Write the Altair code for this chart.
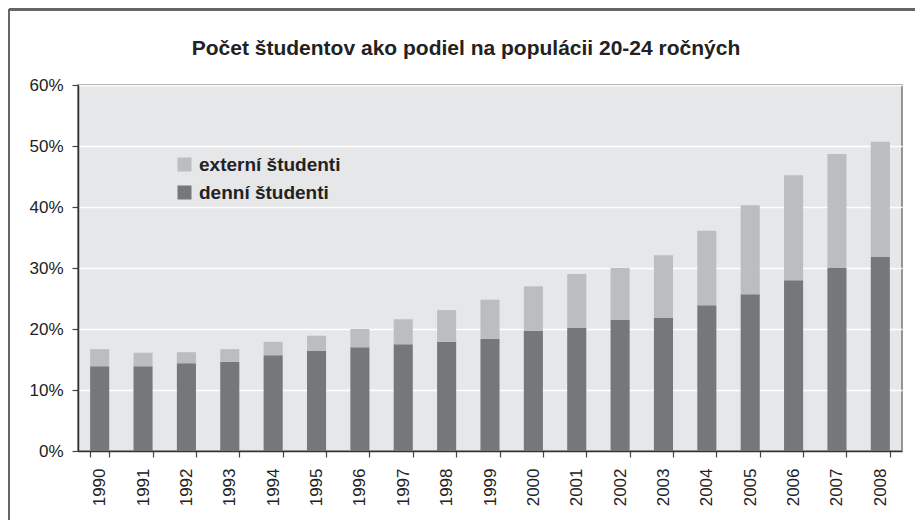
import altair as alt
import pandas as pd

years = [str(y) for y in range(1990, 2009)]
denni = [13.9, 13.9, 14.4, 14.6, 15.7, 16.4, 17.0, 17.5, 17.9, 18.4,
         19.7, 20.2, 21.5, 21.8, 23.9, 25.7, 28.0, 30.0, 31.8]
spolu = [16.7, 16.1, 16.2, 16.7, 17.9, 18.9, 20.0, 21.6, 23.1, 24.8,
         27.0, 29.0, 30.0, 32.1, 36.1, 40.3, 45.2, 48.7, 50.7]
series = ["externí študenti", "denní študenti"]
colors = ["#bcbdc0", "#76777b"]
title = "Počet študentov ako podiel na populácii 20-24 ročných"

rows = []
for y, d, t in zip(years, denni, spolu):
    rows.append({"rok": y, "typ": "denní študenti", "hodnota": d / 100, "poradie": 0})
    rows.append({"rok": y, "typ": "externí študenti", "hodnota": round(t - d, 2) / 100, "poradie": 1})
df = pd.DataFrame(rows)

FONT = "Liberation Sans"

bars = alt.Chart(df).mark_bar().encode(
    x=alt.X("rok:N", title=None, sort=years,
            scale=alt.Scale(paddingInner=0.56, paddingOuter=0.28),
            axis=alt.Axis(labelAngle=270, tickBand="extent", labelPadding=11,
                          tickSize=6, labelFontSize=17, labelBaseline="middle",
                          labelAlign="right")),
    y=alt.Y("hodnota:Q", title=None, stack="zero",
            scale=alt.Scale(domain=[0, 0.6]),
            axis=alt.Axis(format=".0%", values=[0, 0.1, 0.2, 0.3, 0.4, 0.5, 0.6],
                          tickSize=6, labelPadding=9, labelFontSize=17, grid=True)),
    color=alt.Color("typ:N", scale=alt.Scale(domain=series, range=colors),
                    legend=alt.Legend(title=None, orient="none", legendX=97, legendY=70,
                                      symbolType="square", symbolSize=196,
                                      symbolStrokeWidth=0, labelFontSize=19,
                                      labelFontWeight="bold", rowPadding=8,
                                      labelOffset=5, labelColor="#222")),
    order=alt.Order("poradie:Q"),
)

title_mark = alt.Chart(pd.DataFrame({"t": [title]})).mark_text(
    font=FONT, fontSize=21, fontWeight="bold", color="#222",
    align="center", baseline="alphabetic", clip=False
).encode(text="t:N", x=alt.value(388), y=alt.value(-30))

frame_top = alt.Chart(df).mark_rule(color="#666", strokeWidth=1.5, clip=False).encode(
    x=alt.value(-69), x2=alt.value(840), y=alt.value(-75.5))
frame_left = alt.Chart(df).mark_rule(color="#666", strokeWidth=1.5, clip=False).encode(
    x=alt.value(-69.5), y=alt.value(-76), y2=alt.value(445))

chart = alt.layer(bars, title_mark, frame_top, frame_left).properties(
    width=824, height=366,
    autosize=alt.AutoSizeParams(type="none"),
    padding={"left": 70, "top": 77, "right": 13, "bottom": 69},
).configure_view(
    fill="#e6e7e9", stroke="#777", strokeWidth=1.5
).configure_axis(
    labelFont=FONT, labelColor="#222", domainColor="#333", domainWidth=1.5,
    tickColor="#444", tickWidth=1.2, gridColor="#ffffff", gridWidth=1.5
).configure_axisX(grid=False).configure_legend(labelFont=FONT)

chart.save("out.html", embed_options={"renderer": "svg", "actions": False})
